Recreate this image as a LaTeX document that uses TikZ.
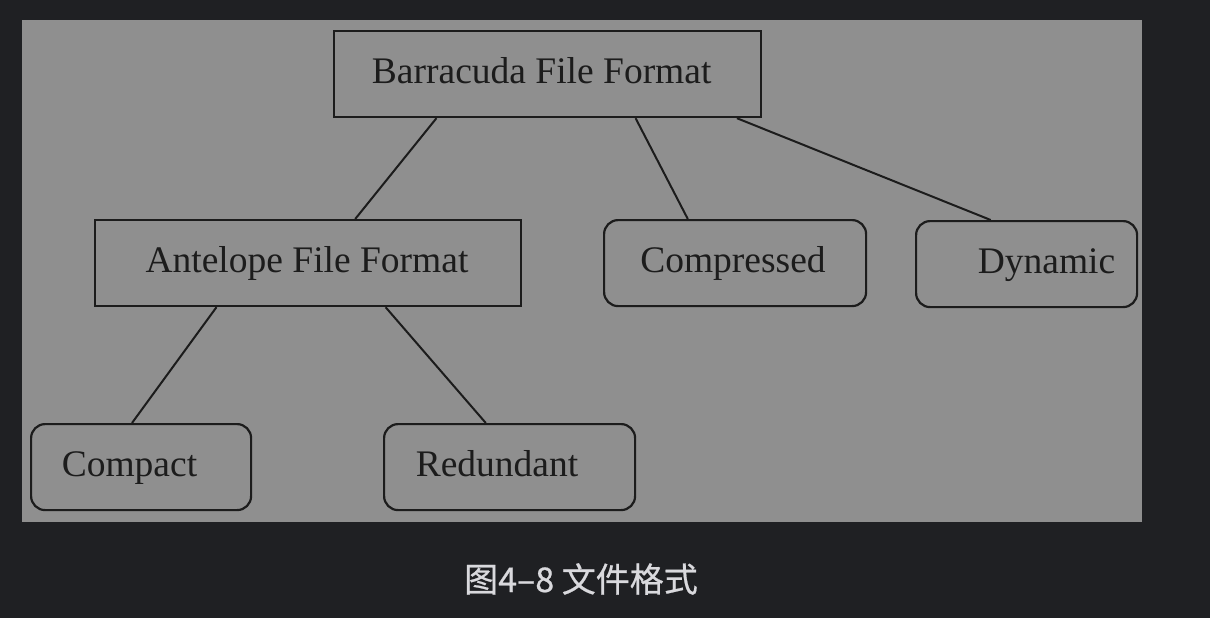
\documentclass[tikz,border=0pt]{standalone}
\usepackage{fontspec}
\setmainfont{Liberation Serif}
\newfontfamily\cjk[FakeBold=0.6]{Noto Sans CJK SC}
\usetikzlibrary{calc}
\definecolor{bgdark}{HTML}{1F2023}
\definecolor{panel}{HTML}{8F8F8F}
\definecolor{ink}{HTML}{1C1C1C}
\definecolor{captxt}{HTML}{D9D9DD}
\begin{document}
\begin{tikzpicture}[x=1pt,y=-1pt,
  box/.style={draw=ink,line width=2.2pt,inner sep=0pt,anchor=north west,minimum height=86pt},
  rbox/.style={box,rounded corners=14pt},
  lbl/.style={font=\fontsize{37.5}{44}\selectfont,text=ink,inner sep=0pt,anchor=base},
  link/.style={draw=ink,line width=2pt},
  capt/.style={font=\cjk\fontsize{34}{40}\selectfont,text=captxt,inner sep=0pt}]
\fill[bgdark] (0,0) rectangle (1210,618);
\useasboundingbox (0,0) rectangle (1210,618);
\fill[panel] (22,20) rectangle (1142,522);
% boxes
\node[box,minimum width=427pt] (bff) at (333,30) {};
\node[box,minimum width=426pt] (aff) at (94,219) {};
\node[rbox,minimum width=262pt] (cmp) at (603,219) {};
\node[rbox,minimum width=221pt] (dyn) at (915,220) {};
\node[rbox,minimum width=220pt] (cpt) at (30,423) {};
\node[rbox,minimum width=251pt] (red) at (383,423) {};
% labels
\node[lbl] (tbff) at (541.7,83.5) {Barracuda File Format};
\node[lbl] (taff) at (307,272.5) {Antelope File Format};
\node[lbl] (tcmp) at (733,272.5) {Compressed};
\node[lbl] (tdyn) at (1046.5,273.5) {Dynamic};
\node[lbl] (tcpt) at (129.5,476.5) {Compact};
\node[lbl] (tred) at (497,476.5) {Redundant};
% connectors
\draw[link] ($(bff.south west)!0.241!(bff.south east)$) -- ($(aff.north west)!0.610!(aff.north east)$);
\draw[link] ($(bff.south west)!0.705!(bff.south east)$) -- ($(cmp.north west)!0.321!(cmp.north east)$);
\draw[link] ($(bff.south west)!0.941!(bff.south east)$) -- ($(dyn.north west)!0.339!(dyn.north east)$);
\draw[link] ($(aff.south west)!0.286!(aff.south east)$) -- ($(cpt.north west)!0.459!(cpt.north east)$);
\draw[link] ($(aff.south west)!0.681!(aff.south east)$) -- ($(red.north west)!0.406!(red.north east)$);
% caption
\node[capt] (cap) at (581,579) {图4–8 文件格式};
\end{tikzpicture}
\end{document}
